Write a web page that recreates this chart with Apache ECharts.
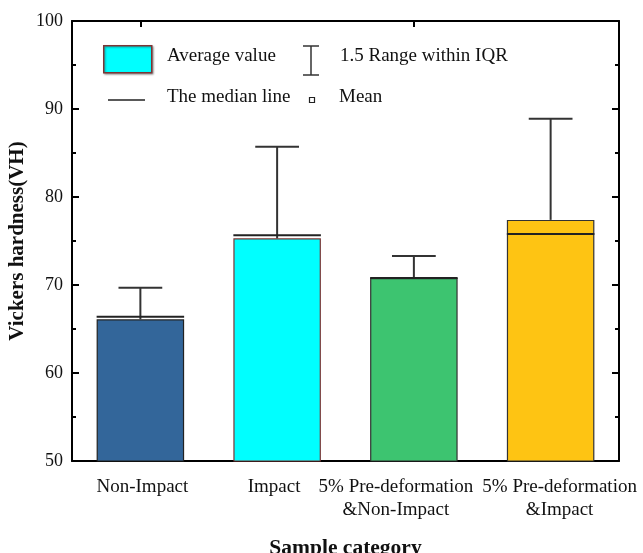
<!DOCTYPE html>
<html>
<head>
<meta charset="utf-8">
<script src="https://cdn.jsdelivr.net/npm/echarts@6/dist/echarts.min.js"></script>
<style>
  html, body { margin: 0; padding: 0; background: #fff; }
  #chart { width: 643px; height: 553px; }
</style>
</head>
<body>
<div id="chart"></div>
<script>
// Sample categories and hardness statistics (VH)
const categories = [
  'Non-Impact',
  'Impact',
  '5% Pre-deformation\n&Non-Impact',
  '5% Pre-deformation\n&Impact'
];
const averageValues = [66.1, 75.3, 70.8, 77.4];
const medianValues = [66.4, 75.65, 70.8, 75.8];
const whiskerTops = [69.7, 85.7, 73.3, 88.9];
const barColors = ['#33669A', '#00FFFF', '#3DC470', '#FEC413'];
const barBorders = ['#222222', '#7A3535', '#333333', '#333333'];
const yTicks = { min: 50, max: 100, interval: 10 };

const FONT = '"Liberation Serif", "Times New Roman", serif';
const BAR_RATIO = 0.64;
// horizontal nudges for the long two-line category labels
const labelPadding = [[0, 0, 0, 4], [0, 6, 0, 0], [0, 36, 0, 0], [0, 0, 0, 18]];

const chart = echarts.init(document.getElementById('chart'), null, { renderer: 'canvas' });

const statData = categories.map((c, i) => [i, averageValues[i], medianValues[i], whiskerTops[i]]);

const axisLine = { show: true, lineStyle: { color: '#000', width: 2 } };

const option = {
  backgroundColor: '#fff',
  animation: false,
  grid: { left: 72, right: 24, top: 21, bottom: 92, containLabel: false, outerBoundsMode: 'none' },
  xAxis: [
    {
      type: 'category',
      data: categories.map((c, i) => ({ value: c, textStyle: { padding: labelPadding[i] } })),
      position: 'bottom',
      axisLine: axisLine,
      axisTick: { show: true, inside: true, alignWithLabel: true, length: 6, lineStyle: { color: '#000', width: 2 } },
      axisLabel: { fontFamily: FONT, fontSize: 19, color: '#111', margin: 15, lineHeight: 23, interval: 0, hideOverlap: false },
      name: 'Sample category',
      nameLocation: 'middle',
      nameGap: 76,
      nameTextStyle: { fontFamily: FONT, fontSize: 21.5, fontWeight: 'bold', color: '#111' }
    },
    {
      type: 'category',
      data: categories,
      position: 'top',
      axisLine: axisLine,
      axisTick: { show: true, inside: true, alignWithLabel: true, length: 6, lineStyle: { color: '#000', width: 2 } },
      axisLabel: { show: false }
    }
  ],
  yAxis: [
    {
      type: 'value',
      min: yTicks.min,
      max: yTicks.max,
      interval: yTicks.interval,
      position: 'left',
      axisLine: axisLine,
      axisTick: { show: true, inside: true, length: 7, lineStyle: { color: '#000', width: 2 } },
      minorTick: { show: true, splitNumber: 2, length: 4, lineStyle: { color: '#000', width: 2 } },
      splitLine: { show: false },
      axisLabel: { fontFamily: FONT, fontSize: 18, color: '#111', margin: 9 },
      name: 'Vickers hardness(VH)',
      nameLocation: 'middle',
      nameGap: 44,
      nameMoveOverlap: false,
      nameTextStyle: { fontFamily: FONT, fontSize: 21, fontWeight: 'bold', color: '#111' }
    },
    {
      type: 'value',
      min: yTicks.min,
      max: yTicks.max,
      interval: yTicks.interval,
      position: 'right',
      axisLine: axisLine,
      axisTick: { show: true, inside: true, length: 7, lineStyle: { color: '#000', width: 2 } },
      minorTick: { show: true, splitNumber: 2, length: 4, lineStyle: { color: '#000', width: 2 } },
      splitLine: { show: false },
      axisLabel: { show: false }
    }
  ],
  series: [
    {
      name: 'Average value',
      type: 'bar',
      xAxisIndex: 0,
      yAxisIndex: 0,
      barWidth: (BAR_RATIO * 100) + '%',
      data: averageValues.map((v, i) => ({
        value: v,
        itemStyle: { color: barColors[i], borderColor: barBorders[i], borderWidth: 1.2 }
      })),
      z: 2
    },
    {
      name: 'Median and range',
      type: 'custom',
      xAxisIndex: 0,
      yAxisIndex: 0,
      data: statData,
      z: 5,
      renderItem: function (params, api) {
        const idx = api.value(0);
        const avg = api.value(1);
        const med = api.value(2);
        const top = api.value(3);
        const band = api.size([1, 0])[0];
        const half = band * BAR_RATIO / 2;
        const pAvg = api.coord([idx, avg]);
        const pMed = api.coord([idx, med]);
        const pTop = api.coord([idx, top]);
        const cap = half / 2;
        const stroke = { stroke: '#333', lineWidth: 2 };
        return {
          type: 'group',
          children: [
            { type: 'line', shape: { x1: pAvg[0], y1: pAvg[1], x2: pTop[0], y2: pTop[1] }, style: stroke },
            { type: 'line', shape: { x1: pTop[0] - cap, y1: pTop[1], x2: pTop[0] + cap, y2: pTop[1] }, style: stroke },
            { type: 'line', shape: { x1: pMed[0] - half, y1: pMed[1], x2: pMed[0] + half, y2: pMed[1] }, style: { stroke: '#222', lineWidth: 2 } }
          ]
        };
      }
    }
  ],
  graphic: [
    // legend block
    { type: 'rect', left: 103, top: 45, shape: { width: 48, height: 27 },
      style: { fill: '#00FFFF', stroke: '#7A3535', lineWidth: 1.5, shadowBlur: 2, shadowColor: 'rgba(0,0,0,0.35)', shadowOffsetX: 1, shadowOffsetY: 1 } },
    { type: 'text', left: 167, top: 47, style: { text: 'Average value', font: '19px ' + FONT, fill: '#111' } },
    { type: 'line', shape: { x1: 311, y1: 46, x2: 311, y2: 75 }, style: { stroke: '#333', lineWidth: 1.5 } },
    { type: 'line', shape: { x1: 303, y1: 46, x2: 319, y2: 46 }, style: { stroke: '#333', lineWidth: 1.5 } },
    { type: 'line', shape: { x1: 303, y1: 75, x2: 319, y2: 75 }, style: { stroke: '#333', lineWidth: 1.5 } },
    { type: 'text', left: 340, top: 47, style: { text: '1.5 Range within IQR', font: '19px ' + FONT, fill: '#111' } },
    { type: 'line', shape: { x1: 108, y1: 100, x2: 145, y2: 100 }, style: { stroke: '#222', lineWidth: 1.5 } },
    { type: 'text', left: 167, top: 88, style: { text: 'The median line', font: '19px ' + FONT, fill: '#111' } },
    { type: 'rect', shape: { x: 309.5, y: 97.5, width: 5, height: 5 }, style: { fill: '#fff', stroke: '#222', lineWidth: 1.2 } },
    { type: 'text', left: 339, top: 88, style: { text: 'Mean', font: '19px ' + FONT, fill: '#111' } }
  ]
};

chart.setOption(option);
</script>
</body>
</html>
